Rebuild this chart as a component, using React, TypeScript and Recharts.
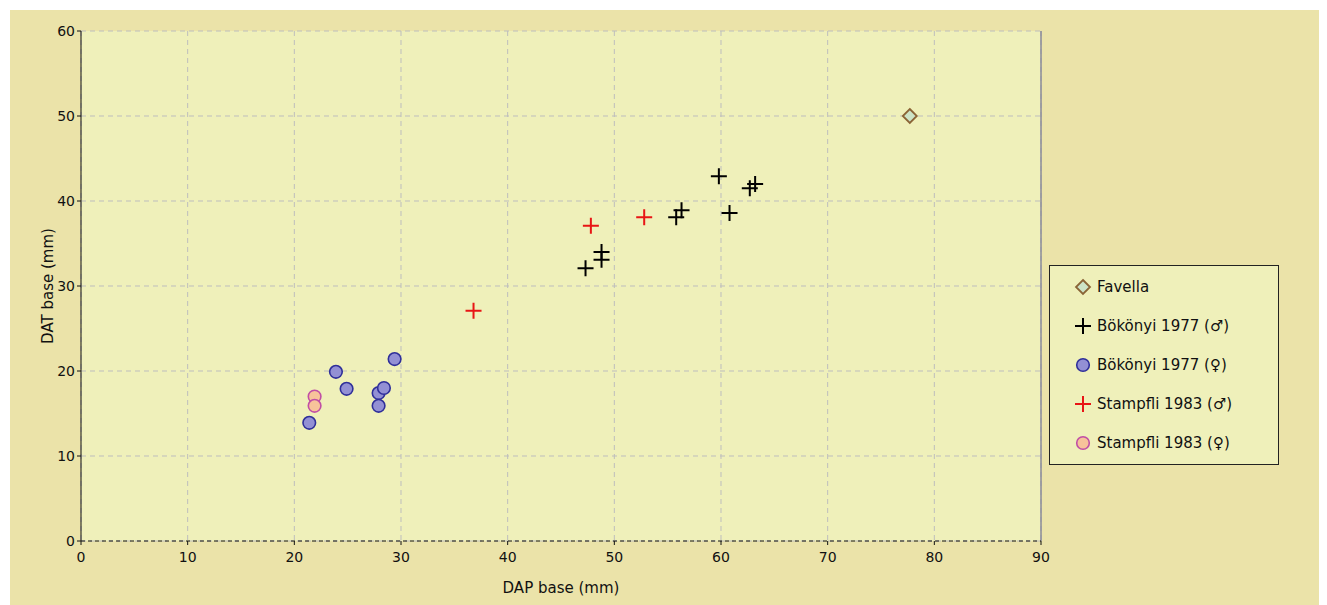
import React from 'react';
import {
  ScatterChart, Scatter, XAxis, YAxis, CartesianGrid, ReferenceLine,
} from 'recharts';

const favellaX = [77.7];
const favellaY = [50];

const bokMaleX = [47.3, 48.8, 48.8, 55.8, 56.3, 59.8, 60.8, 62.7, 63.2];
const bokMaleY = [32.1, 33.1, 34.0, 38.1, 38.9, 42.9, 38.6, 41.5, 42.0];

const bokFemaleX = [29.4, 23.9, 24.9, 27.9, 28.4, 27.9, 21.4];
const bokFemaleY = [21.4, 19.9, 17.9, 17.4, 18.0, 15.9, 13.9];

const stMaleX = [36.8, 47.8, 52.8];
const stMaleY = [27.1, 37.1, 38.1];

const stFemaleX = [21.9, 21.9];
const stFemaleY = [17.0, 15.9];

const xTicks = [0, 10, 20, 30, 40, 50, 60, 70, 80, 90];
const yTicks = [0, 10, 20, 30, 40, 50, 60];

const seriesNames = [
  'Favella',
  'Bökönyi 1977 (♂)',
  'Bökönyi 1977 (♀)',
  'Stampfli 1983 (♂)',
  'Stampfli 1983 (♀)',
];

const zip = (xs: number[], ys: number[]) => xs.map((x, i) => ({ x, y: ys[i] }));

const FONT = '"DejaVu Sans", Verdana, sans-serif';

const Diamond = (props: any) => {
  const { cx, cy } = props;
  const r = 7;
  return (
    <path
      d={`M${cx},${cy - r} L${cx + r},${cy} L${cx},${cy + r} L${cx - r},${cy} Z`}
      fill="#cde3c6"
      stroke="#8a6436"
      strokeWidth={1.8}
    />
  );
};

const makeCross = (color: string) => (props: any) => {
  const { cx, cy } = props;
  const r = 8;
  return (
    <path
      d={`M${cx - r},${cy} L${cx + r},${cy} M${cx},${cy - r} L${cx},${cy + r}`}
      stroke={color}
      strokeWidth={2}
      fill="none"
    />
  );
};

const makeCircle = (fill: string, stroke: string) => (props: any) => {
  const { cx, cy } = props;
  return <circle cx={cx} cy={cy} r={6.3} fill={fill} stroke={stroke} strokeWidth={1.6} />;
};

const BlackCross = makeCross('#000000');
const RedCross = makeCross('#e81515');
const PurpleCircle = makeCircle('#9390d4', '#2f2f9a');
const PinkCircle = makeCircle('#f7c39a', '#c04ea6');

const legendIcons = [
  (cx: number, cy: number) => <Diamond cx={cx} cy={cy} />,
  (cx: number, cy: number) => <BlackCross cx={cx} cy={cy} />,
  (cx: number, cy: number) => <PurpleCircle cx={cx} cy={cy} />,
  (cx: number, cy: number) => <RedCross cx={cx} cy={cy} />,
  (cx: number, cy: number) => <PinkCircle cx={cx} cy={cy} />,
];

const LegendBox = () => (
  <div
    style={{
      position: 'absolute',
      left: 1039,
      top: 255,
      width: 230,
      height: 200,
      boxSizing: 'border-box',
      border: '1px solid #222',
      background: '#eff0ba',
      fontFamily: FONT,
      fontSize: 15,
      color: '#111',
    }}
  >
    {seriesNames.map((name, i) => (
      <div
        key={name}
        style={{ position: 'absolute', left: 22, top: 9 + i * 39, height: 24, display: 'flex', alignItems: 'center' }}
      >
        <svg width={22} height={22} style={{ marginRight: 3 }}>
          {legendIcons[i](11, 11)}
        </svg>
        <span style={{ whiteSpace: 'nowrap' }}>{name}</span>
      </div>
    ))}
  </div>
);

export default function App() {
  return (
    <div style={{ position: 'relative', marginLeft: 2, marginTop: 2, width: 1310, height: 595, background: '#ebe3a9' }}>
      <ScatterChart
        width={1310}
        height={595}
        margin={{ top: 21, right: 279, bottom: 24, left: 10 }}
        style={{ fontFamily: FONT }}
      >
        <CartesianGrid
          fill="#eff0ba"
          stroke="#bdbdbd"
          strokeDasharray="5 4"
          horizontalValues={yTicks}
          verticalValues={xTicks}
        />
        <XAxis
          type="number"
          dataKey="x"
          domain={[0, 90]}
          ticks={xTicks}
          interval={0}
          height={40}
          tickSize={4}
          tickMargin={7}
          tick={{ fill: '#111', fontSize: 14, fontFamily: FONT }}
          tickLine={{ stroke: '#111' }}
          axisLine={{ stroke: '#111', strokeDasharray: '4 3' }}
          label={{ value: 'DAP base (mm)', position: 'bottom', offset: 1, fill: '#111', fontSize: 15, fontFamily: FONT }}
        />
        <YAxis
          type="number"
          dataKey="y"
          domain={[0, 60]}
          ticks={yTicks}
          interval={0}
          width={61}
          tickSize={4}
          tickMargin={2}
          tick={{ fill: '#111', fontSize: 14, fontFamily: FONT }}
          tickLine={{ stroke: '#111' }}
          axisLine={{ stroke: '#111' }}
          label={{
            value: 'DAT base (mm)',
            angle: -90,
            position: 'insideLeft',
            offset: 28,
            fill: '#111',
            fontSize: 15,
            fontFamily: FONT,
            style: { textAnchor: 'middle' },
          }}
        />
        <ReferenceLine x={90} stroke="#8a8a98" strokeWidth={1.5} />
        <Scatter name={seriesNames[0]} data={zip(favellaX, favellaY)} shape={Diamond} isAnimationActive={false} />
        <Scatter name={seriesNames[1]} data={zip(bokMaleX, bokMaleY)} shape={BlackCross} isAnimationActive={false} />
        <Scatter name={seriesNames[2]} data={zip(bokFemaleX, bokFemaleY)} shape={PurpleCircle} isAnimationActive={false} />
        <Scatter name={seriesNames[3]} data={zip(stMaleX, stMaleY)} shape={RedCross} isAnimationActive={false} />
        <Scatter name={seriesNames[4]} data={zip(stFemaleX, stFemaleY)} shape={PinkCircle} isAnimationActive={false} />
      </ScatterChart>
      <LegendBox />
    </div>
  );
}
